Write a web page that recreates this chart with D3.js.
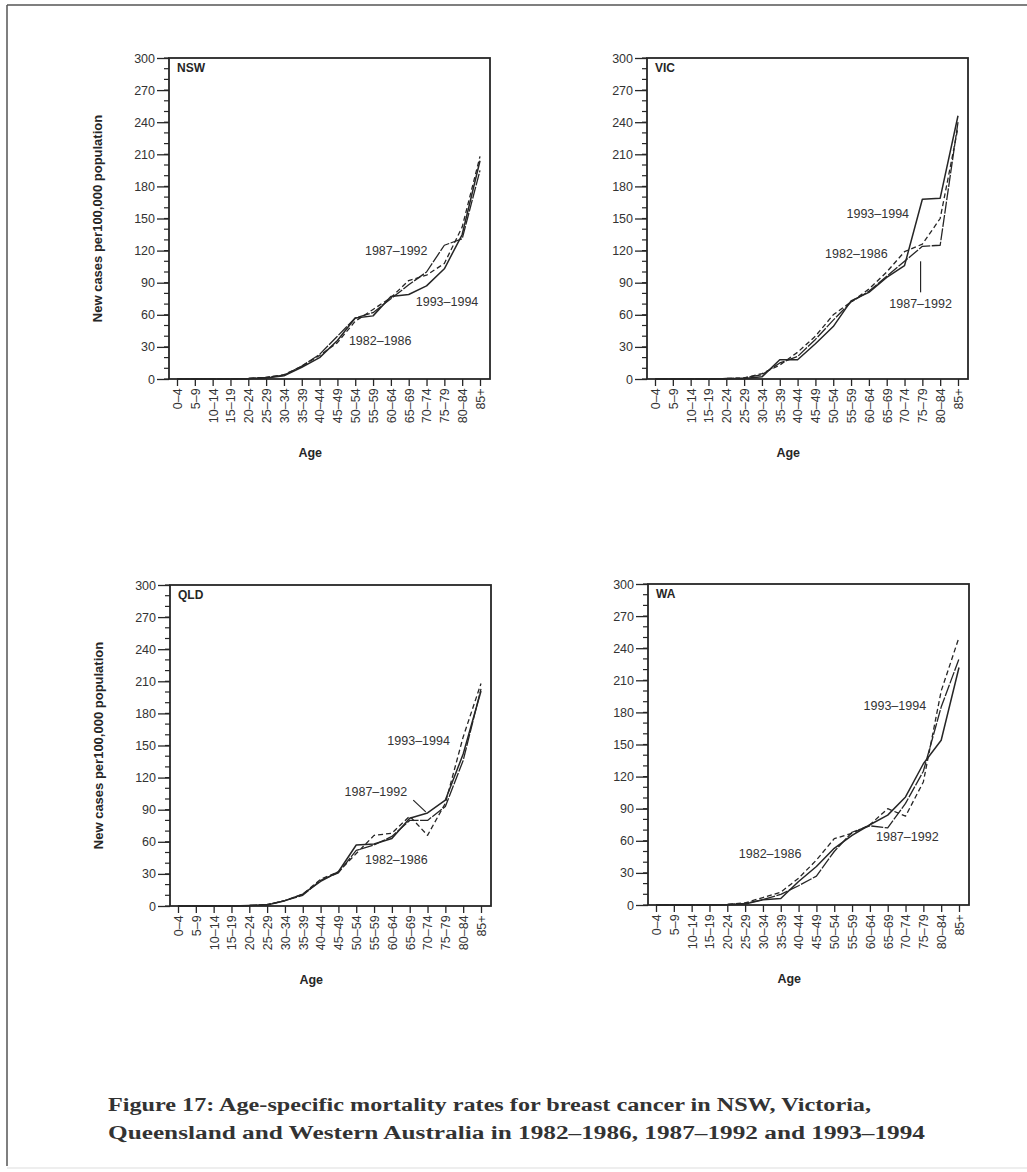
<!DOCTYPE html>
<html>
<head>
<meta charset="utf-8">
<script src="https://cdn.jsdelivr.net/npm/d3@7"></script>
<style>
  body { margin: 0; background: #fff; }
  svg { display: block; }
</style>
</head>
<body>
<svg id="chart" width="1027" height="1172"></svg>
<script>
// age groups on the x axis
const ageGroups = ["0–4","5–9","10–14","15–19","20–24","25–29","30–34","35–39","40–44",
  "45–49","50–54","55–59","60–64","65–69","70–74","75–79","80–84","85+"];
const periods = ["1982–1986", "1987–1992", "1993–1994"];
const yTicks = [0, 30, 60, 90, 120, 150, 180, 210, 240, 270, 300];

// rates per 100,000, one array per state and period
const nsw1982 = [0,0,0,0,0.5,1.5,4,12,22,34,54,65,76,92,97,108,142,208];
const nsw1987 = [0,0,0,0,0.5,1.5,3.5,12,23,40,57,62,75,88,100,125,131,195];
const nsw1993 = [0,0,0,0,0.3,1,3,11,20,36,57,59,77,79,87,103,135,204];

const vic1982 = [0,0,0,0,0.5,1,5,13,25,40,60,72,84,100,119,126,150,235];
const vic1987 = [0,0,0,0,0.5,1,4,15,21,37,55,72,82,96,110,124,125,240];
const vic1993 = [0,0,0,0,0,0.5,2,18,18,33,49,73,81,95,106,168,169,246];

const qld1982 = [0,0,0,0,0.5,1,5,11,25,32,49,66,68,84,66,96,158,208];
const qld1987 = [0,0,0,0,0.5,1.5,5,10,24,31,52,57,65,80,80,93,136,203];
const qld1993 = [0,0,0,0,0.5,1,5,11,23,32,57,58,63,82,87,99,142,201];

const wa1982 = [0,0,0,0,0.5,2,7,12,25,42,62,67,75,90,83,115,200,250];
const wa1987 = [0,0,0,0,0.5,1.5,5,10,18,27,50,68,74,72,95,125,185,230];
const wa1993 = [0,0,0,0,0.3,1,5,6,22,36,53,65,75,84,101,132,154,222];

const panels = [
  {title: "NSW", series: [nsw1982, nsw1987, nsw1993], left: 169, top: 58, yLabel: true,
   notes: [{t: "1987–1992", i: 12.3, v: 120}, {t: "1993–1994", i: 15.15, v: 72}, {t: "1982–1986", i: 11.4, v: 36}]},
  {title: "VIC", series: [vic1982, vic1987, vic1993], left: 647, top: 58, yLabel: false,
   notes: [{t: "1993–1994", i: 12.5, v: 155}, {t: "1982–1986", i: 11.3, v: 117},
           {t: "1987–1992", i: 14.9, v: 70, lead: [14.9, 110, 14.9, 81]}]},
  {title: "QLD", series: [qld1982, qld1987, qld1993], left: 170, top: 585, yLabel: true,
   notes: [{t: "1993–1994", i: 13.5, v: 155}, {t: "1987–1992", i: 11.1, v: 107, lead: [13.2, 99, 13.9, 88]},
           {t: "1982–1986", i: 12.25, v: 43}]},
  {title: "WA", series: [wa1982, wa1987, wa1993], left: 648, top: 584, yLabel: false,
   notes: [{t: "1993–1994", i: 13.4, v: 186}, {t: "1987–1992", i: 14.1, v: 64}, {t: "1982–1986", i: 6.4, v: 48}]}
];

const W = 321, H = 321;
const ink = "#262626";
const dashes = ["5,3", "12,1.5", null];
const widths = [1.3, 1.3, 1.5];
const tickFont = "12.5px 'Liberation Sans', Arial, sans-serif";

const svg = d3.select("#chart");

// page frame
svg.append("line").attr("x1", 7).attr("x2", 1027).attr("y1", 5).attr("y2", 5)
  .attr("stroke", "#555").attr("stroke-width", 1.5);
svg.append("line").attr("x1", 7).attr("x2", 7).attr("y1", 5).attr("y2", 1166)
  .attr("stroke", "#555").attr("stroke-width", 1.5);
svg.append("line").attr("x1", 7).attr("x2", 1027).attr("y1", 1168).attr("y2", 1168)
  .attr("stroke", "#ddd").attr("stroke-width", 1);

panels.forEach(p => {
  const g = svg.append("g").attr("transform", `translate(${p.left},${p.top})`);
  const x = d3.scalePoint().domain(ageGroups).range([8, W - 10]);
  const y = d3.scaleLinear().domain([0, 300]).range([H, 0]);
  const xi = i => x(ageGroups[0]) + i * x.step();

  // minor y ticks
  g.append("g").selectAll("line").data(d3.range(0, 301, 10))
    .join("line").attr("x1", -5).attr("x2", 0)
    .attr("y1", d => y(d)).attr("y2", d => y(d))
    .attr("stroke", ink).attr("stroke-width", 1.2);

  const yAxis = g.append("g").call(d3.axisLeft(y).tickValues(yTicks).tickSize(12).tickPadding(2));
  yAxis.select(".domain").remove();
  yAxis.selectAll("line").attr("stroke", ink).attr("stroke-width", 1.3);
  yAxis.selectAll("text").attr("fill", "#333").style("font", tickFont);

  const xAxis = g.append("g").attr("transform", `translate(0,${H})`)
    .call(d3.axisBottom(x).tickSize(7).tickPadding(4));
  xAxis.select(".domain").remove();
  xAxis.selectAll("line").attr("stroke", ink).attr("stroke-width", 1.3);
  xAxis.selectAll("text")
    .attr("transform", "rotate(-90)")
    .attr("text-anchor", "end")
    .attr("dx", "-0.75em").attr("dy", "0.35em").attr("x", 0).attr("y", 0)
    .attr("fill", "#333")
    .style("font", tickFont);

  // plot frame
  g.append("rect").attr("width", W).attr("height", H)
    .attr("fill", "none").attr("stroke", ink).attr("stroke-width", 1.8);

  // series lines
  const line = d3.line().x((d, i) => x(ageGroups[i])).y(d => y(d));
  p.series.forEach((s, k) => {
    g.append("path").datum(s).attr("d", line)
      .attr("fill", "none").attr("stroke", ink)
      .attr("stroke-width", widths[k])
      .attr("stroke-dasharray", dashes[k])
      .attr("stroke-linejoin", "round");
  });

  // annotations
  p.notes.forEach(n => {
    g.append("text").attr("x", xi(n.i)).attr("y", y(n.v)).attr("dy", "0.35em")
      .attr("text-anchor", "middle").attr("fill", "#333")
      .style("font", tickFont).text(n.t);
    if (n.lead) {
      g.append("line").attr("x1", xi(n.lead[0])).attr("y1", y(n.lead[1]))
        .attr("x2", xi(n.lead[2])).attr("y2", y(n.lead[3]))
        .attr("stroke", ink).attr("stroke-width", 1.2);
    }
  });

  g.append("text").attr("x", 8).attr("y", 14).attr("fill", ink)
    .style("font", "bold 12px 'Liberation Sans', Arial, sans-serif").text(p.title);

  g.append("text").attr("x", W * 0.44).attr("y", H + 78).attr("text-anchor", "middle")
    .attr("fill", ink).style("font", "bold 12.5px 'Liberation Sans', Arial, sans-serif").text("Age");

  if (p.yLabel) {
    g.append("text").attr("transform", `translate(-72,${H / 2}) rotate(-90)`)
      .attr("text-anchor", "middle").attr("dy", "0.35em").attr("fill", ink)
      .style("font", "bold 13px 'Liberation Sans', Arial, sans-serif")
      .text("New cases per100,000 population");
  }
});

// caption
const cap = [
  {t: "Figure 17: Age-specific mortality rates for breast cancer in NSW, Victoria,", y: 1111, len: 763},
  {t: "Queensland and Western Australia in 1982–1986, 1987–1992 and 1993–1994", y: 1139, len: 817}
];
svg.selectAll("text.cap").data(cap).join("text").attr("class", "cap")
  .attr("x", 108).attr("y", d => d.y)
  .attr("textLength", d => d.len).attr("lengthAdjust", "spacingAndGlyphs")
  .attr("fill", "#333")
  .style("font", "bold 18px 'Liberation Serif', 'DejaVu Serif', serif")
  .text(d => d.t);
</script>
</body>
</html>
